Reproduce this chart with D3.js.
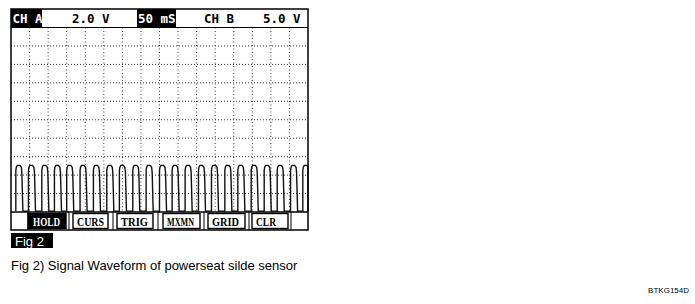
<!DOCTYPE html>
<html>
<head>
<meta charset="utf-8">
<script src="https://cdn.jsdelivr.net/npm/d3@7"></script>
<style>
    body { margin: 0; background: #fff; }
    .hdr { font-family: "DejaVu Sans Mono", monospace; font-weight: bold; font-size: 12.5px; }
    .btn { font-family: "Liberation Serif", serif; font-weight: bold; font-size: 12px; }
    .cap { font-family: "Liberation Sans", Arial, sans-serif; }
</style>
</head>
<body>
<script>
// header / button texts
const headerLabels = ["CH A", "2.0 V", "50 mS", "CH B", "5.0 V"];
const buttonLabels = ["HOLD", "CURS", "TRIG", "MXMN", "GRID", "CLR"];

// grid ticks: 50 mS / div, 2.0 V / div
const timeTicks = [50, 100, 150, 200, 250, 300, 350, 400, 450, 500, 550, 600, 650, 700, 750];
const voltTicks = [2, 4, 6, 8, 10, 12, 14, 16, 18];

// rising edge times (ms)
const pulseStarts = [13, 47, 83, 117, 150, 186, 222, 258, 292, 328, 364, 400,
    434, 469, 505, 540, 576, 611, 647, 682, 717, 753, 786];

// one pulse shape: offset from rising edge (ms), level (V)
const pulseOffsets = [0, 0, 1.3, 4, 11, 14.8, 16.2, 17.5, 19];
const pulseVolts = [0.1, 4.5, 4.85, 5.05, 5.05, 4.85, 4.3, 2.4, 0.1];

const width = 695;
const height = 304;

const svg = d3.select("body")
    .append("svg")
    .attr("width", width)
    .attr("height", height);

// scope screen area
const scrLeft = 11, scrRight = 308;
const scrTop = 9, hdrBottom = 27.5, gridBottom = 212, barBottom = 230;

const x = d3.scaleLinear().domain([0, 800]).range([scrLeft, scrRight]);
const y = d3.scaleLinear().domain([0, 20]).range([gridBottom, hdrBottom]);

// grid
svg.append("g")
    .selectAll("line")
    .data(timeTicks)
    .enter()
    .append("line")
    .attr("x1", d => x(d)).attr("x2", d => x(d))
    .attr("y1", hdrBottom).attr("y2", gridBottom)
    .style("stroke", "#333")
    .style("stroke-width", 1)
    .style("stroke-dasharray", "1,2.5");

svg.append("g")
    .selectAll("line")
    .data(voltTicks)
    .enter()
    .append("line")
    .attr("x1", scrLeft).attr("x2", scrRight)
    .attr("y1", d => y(d)).attr("y2", d => y(d))
    .style("stroke", "#333")
    .style("stroke-width", 1)
    .style("stroke-dasharray", "1,2");

// waveform
const pts = [];
pulseStarts.forEach(function (t0) {
    pulseOffsets.forEach(function (o, i) {
        pts.push([t0 + o, pulseVolts[i]]);
    });
});

const line = d3.line()
    .x(d => x(Math.min(d[0], 800)))
    .y(d => y(d[1]));

svg.append("path")
    .datum(pts)
    .attr("d", line)
    .style("fill", "none")
    .style("stroke", "#111")
    .style("stroke-width", 1.4);

// header bar
svg.append("rect")
    .attr("x", scrLeft).attr("y", scrTop)
    .attr("width", scrRight - scrLeft).attr("height", hdrBottom - scrTop)
    .style("fill", "#fff");

const hdrPos = [
    { x: 12.5, box: [scrLeft, 42] },
    { x: 72 },
    { x: 138, box: [137, 176] },
    { x: 204 },
    { x: 263 }
];

headerLabels.forEach(function (t, i) {
    const p = hdrPos[i];
    if (p.box) {
        svg.append("rect")
            .attr("x", p.box[0]).attr("y", scrTop)
            .attr("width", p.box[1] - p.box[0]).attr("height", hdrBottom - scrTop)
            .style("fill", "#000");
    }
    svg.append("text")
        .attr("class", "hdr")
        .attr("x", p.x)
        .attr("y", 23)
        .style("fill", p.box ? "#fff" : "#000")
        .text(t);
});

svg.append("line")
    .attr("x1", scrLeft).attr("x2", scrRight)
    .attr("y1", hdrBottom).attr("y2", hdrBottom)
    .style("stroke", "#000").style("stroke-width", 1);

// button bar
svg.append("rect")
    .attr("x", scrLeft).attr("y", gridBottom)
    .attr("width", scrRight - scrLeft).attr("height", barBottom - gridBottom)
    .style("fill", "#fff");

const btnPos = [[28, 66], [73, 108], [117, 153], [163, 200], [208, 245], [252, 288]];

buttonLabels.forEach(function (t, i) {
    const b = btnPos[i];
    const hold = i === 0;
    svg.append("rect")
        .attr("x", b[0]).attr("y", gridBottom + 1.5)
        .attr("width", b[1] - b[0]).attr("height", barBottom - gridBottom - 3)
        .style("fill", hold ? "#000" : "#fff")
        .style("stroke", "#000")
        .style("stroke-width", 1.4);
    const tx = hold ? b[0] + 5 : b[0] + 4;
    svg.append("text")
        .attr("class", "btn")
        .attr("x", tx)
        .attr("y", 225.5)
        .attr("textLength", t.length === 3 ? 20 : 27)
        .attr("lengthAdjust", "spacingAndGlyphs")
        .style("fill", hold ? "#fff" : "#000")
        .text(t);
});

// separators between cells
[28, 69, 113, 158, 204, 249, 291].forEach(function (sx) {
    svg.append("line")
        .attr("x1", sx).attr("x2", sx)
        .attr("y1", gridBottom).attr("y2", barBottom)
        .style("stroke", "#000").style("stroke-width", 1);
});

svg.append("line")
    .attr("x1", scrLeft).attr("x2", scrRight)
    .attr("y1", gridBottom).attr("y2", gridBottom)
    .style("stroke", "#000").style("stroke-width", 1.3);

// outer frame
svg.append("rect")
    .attr("x", scrLeft).attr("y", scrTop)
    .attr("width", scrRight - scrLeft).attr("height", barBottom - scrTop)
    .style("fill", "none")
    .style("stroke", "#000")
    .style("stroke-width", 1.5);

// Fig 2 tag
svg.append("rect")
    .attr("x", scrLeft).attr("y", 233)
    .attr("width", 42).attr("height", 15)
    .style("fill", "#000");

svg.append("text")
    .attr("class", "cap")
    .attr("x", 15).attr("y", 245.5)
    .style("font-size", "13px")
    .style("fill", "#fff")
    .text("Fig 2");

// caption
svg.append("text")
    .attr("class", "cap")
    .attr("x", 11).attr("y", 269.5)
    .style("font-size", "13px")
    .style("fill", "#000")
    .text("Fig 2) Signal Waveform of powerseat silde sensor");

svg.append("text")
    .attr("class", "cap")
    .attr("x", 689).attr("y", 293)
    .attr("text-anchor", "end")
    .style("font-size", "8px")
    .style("fill", "#000")
    .text("BTKG154D");
</script>
</body>
</html>
